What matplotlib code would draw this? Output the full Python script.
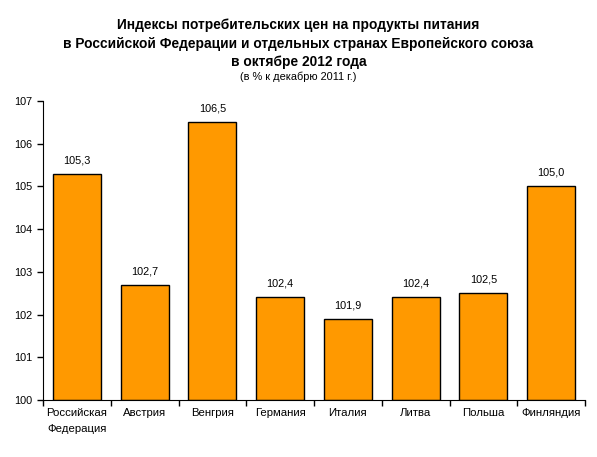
import matplotlib.pyplot as plt
import numpy as np

plt.rcParams['font.family'] = ['Liberation Sans', 'DejaVu Sans']

countries = ['Российская\nФедерация', 'Австрия', 'Венгрия', 'Германия',
             'Италия', 'Литва', 'Польша', 'Финляндия']
values = [105.3, 102.7, 106.5, 102.4, 101.9, 102.4, 102.5, 105.0]
labels = ['105,3', '102,7', '106,5', '102,4', '101,9', '102,4', '102,5', '105,0']

fig = plt.figure(figsize=(5.97, 4.57), dpi=100)
ax = fig.add_axes([43 / 597, 57 / 457, 542 / 597, 299 / 457])

x = np.arange(len(countries))
ax.bar(x, np.array(values) - 100, bottom=100, width=0.71,
       color='#FF9900', edgecolor='black', linewidth=1)
for xi, v, lab in zip(x, values, labels):
    ax.text(xi, v + 0.2, lab, ha='center', va='bottom', fontsize=7.8)

ax.set_xlim(-0.5, len(countries) - 0.5)
ax.set_ylim(100, 107)
ax.set_yticks(range(100, 108))
ax.set_xticks(np.arange(len(countries) + 1) - 0.5)
ax.set_xticklabels([])
ax.set_xticks(x, minor=True)
ax.set_xticklabels(countries, minor=True, fontsize=8.2, linespacing=1.7)
ax.tick_params(axis='x', which='minor', length=0, pad=6)
ax.tick_params(axis='x', which='major', length=4, direction='out', width=1)
ax.tick_params(axis='y', length=4, direction='out', width=1, labelsize=7.8)
ax.spines['top'].set_visible(False)
ax.spines['right'].set_visible(False)

fig.text(0.5, 1 - 25 / 457, 'Индексы потребительских цен на продукты питания',
         ha='center', va='center', fontsize=9.9, fontweight='bold')
fig.text(0.5, 1 - 44 / 457, 'в Российской Федерации и отдельных странах Европейского союза',
         ha='center', va='center', fontsize=9.9, fontweight='bold')
fig.text(0.5, 1 - 62 / 457, 'в октябре 2012 года',
         ha='center', va='center', fontsize=9.9, fontweight='bold')
fig.text(0.5, 1 - 77 / 457, '(в % к декабрю 2011 г.)',
         ha='center', va='center', fontsize=7.9)

fig.savefig('out.png', dpi=100)
